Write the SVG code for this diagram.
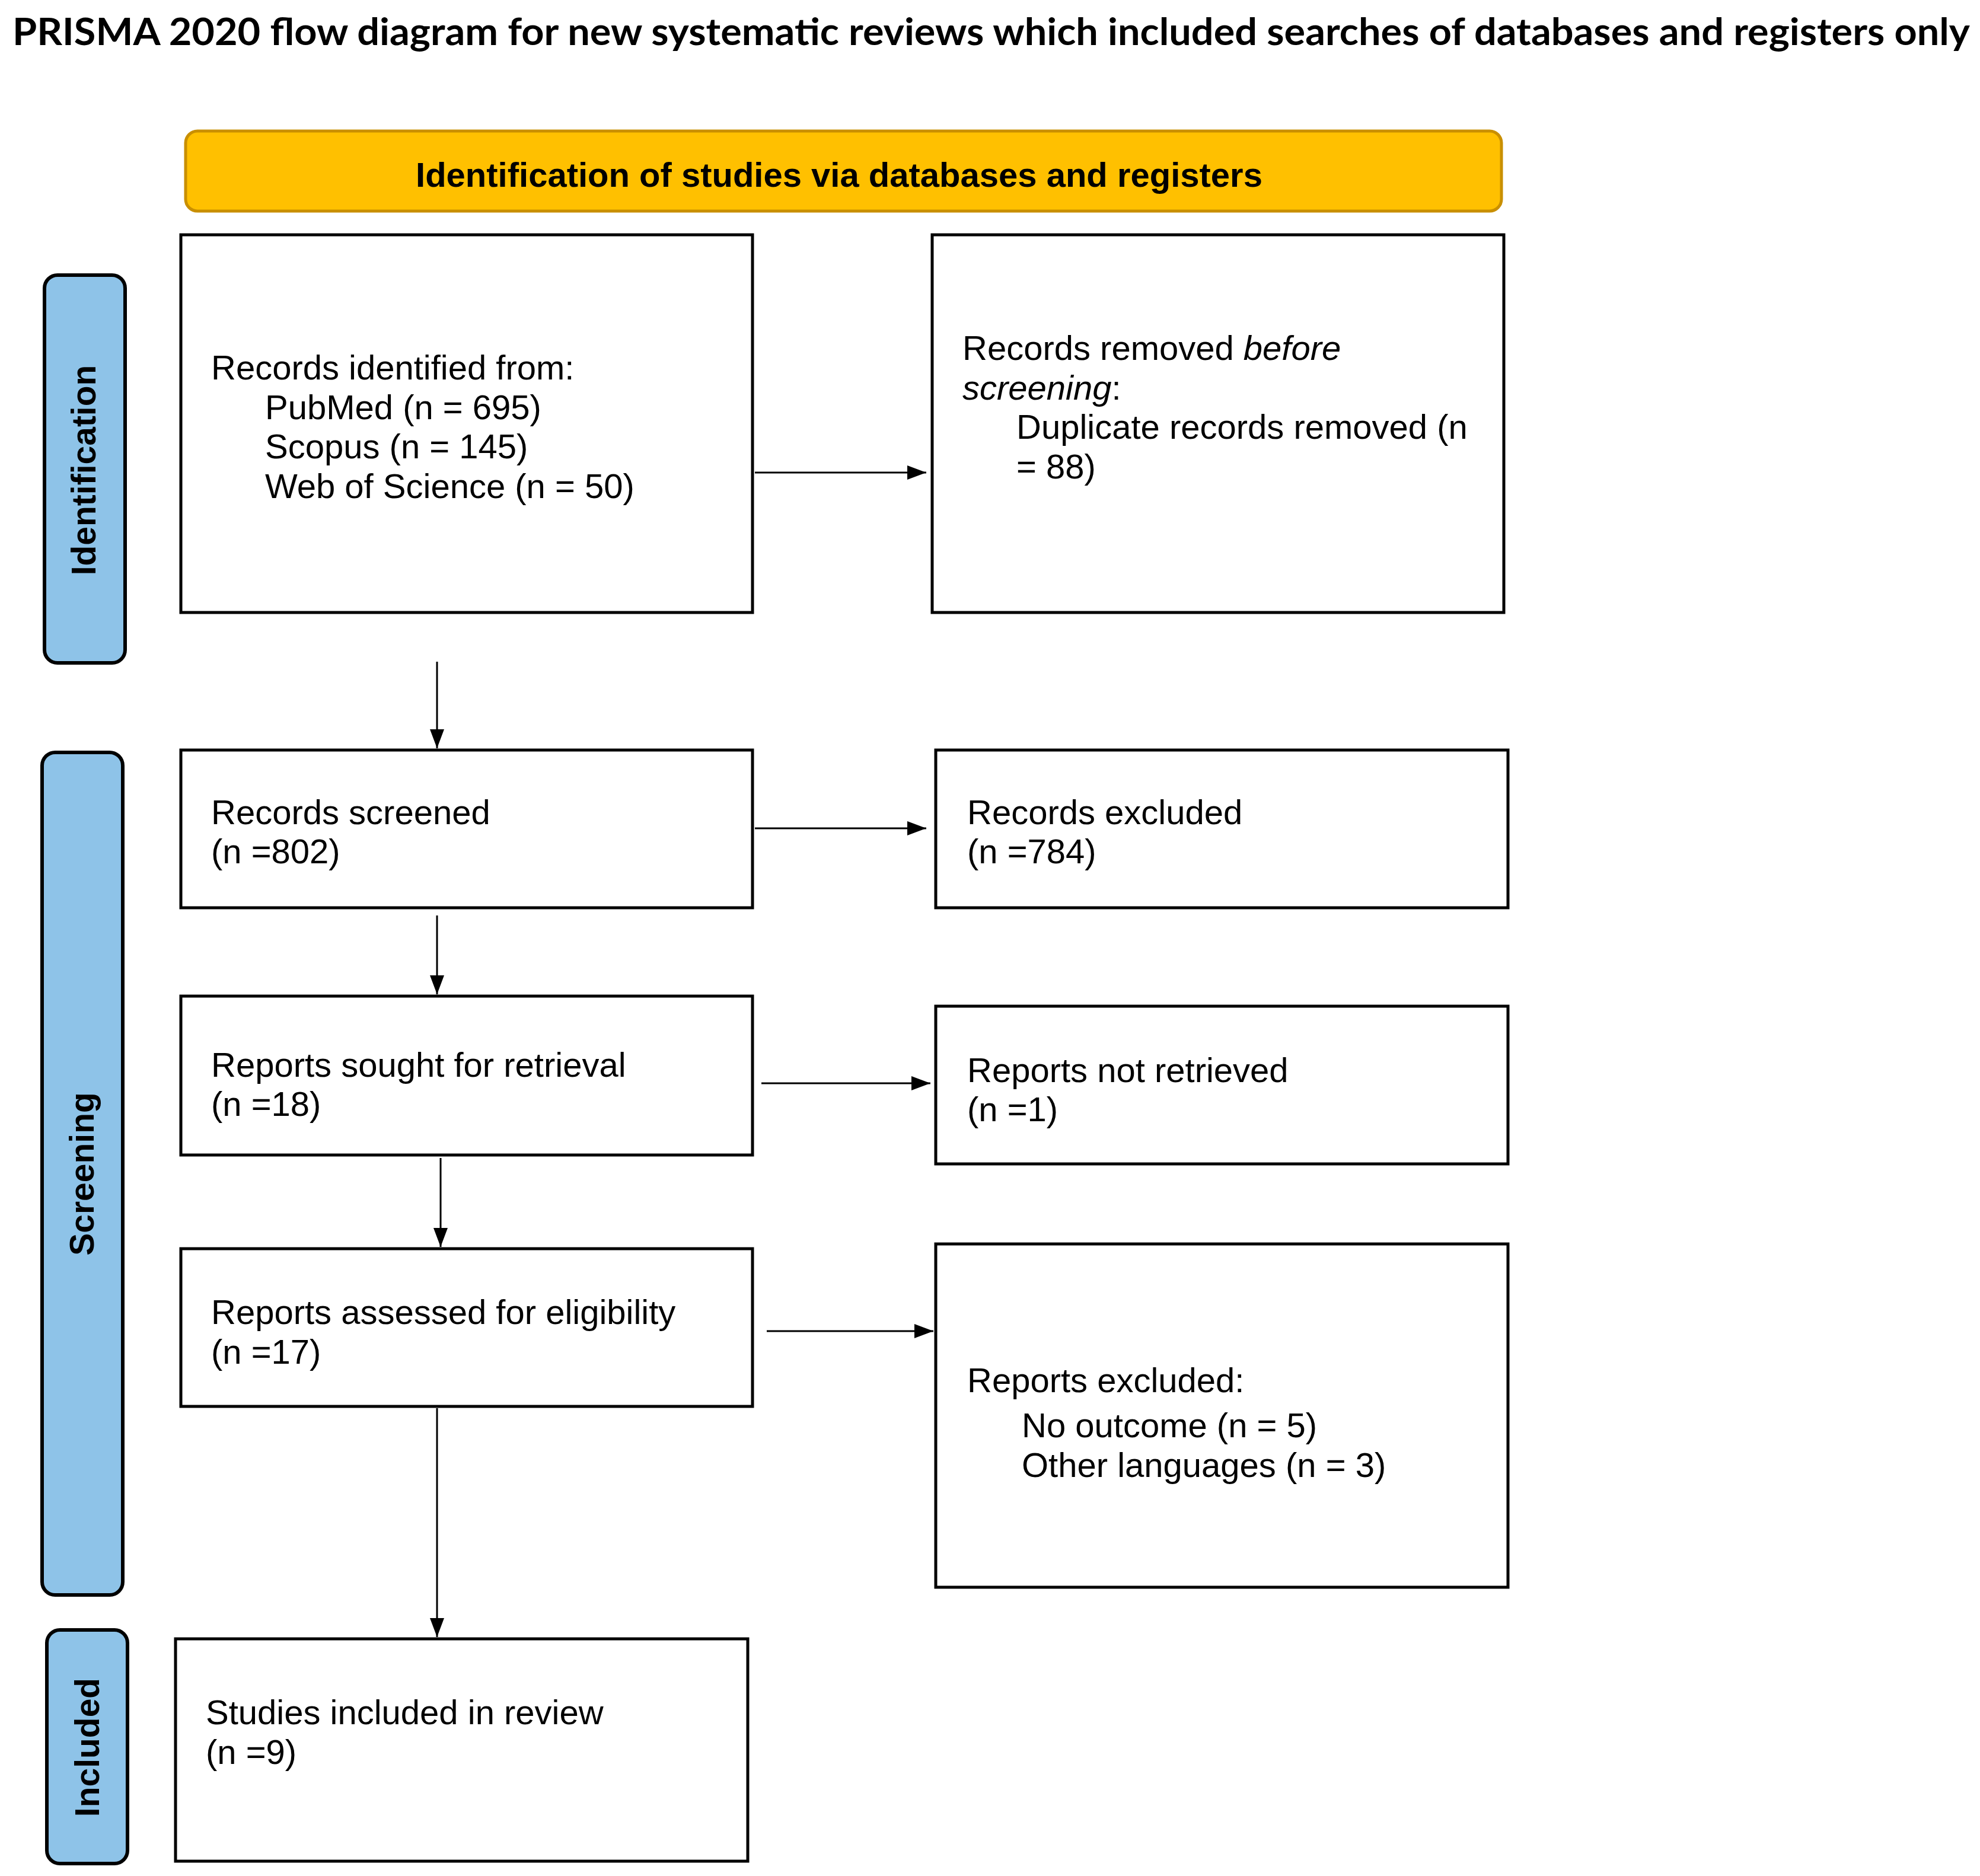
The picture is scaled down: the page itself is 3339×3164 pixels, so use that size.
<svg xmlns="http://www.w3.org/2000/svg" width="3339" height="3164" viewBox="0 0 3339 3164">
<style>
.bg{fill:#ffffff}
.box{fill:#ffffff;stroke:#000000;stroke-width:5}
.side{fill:#8EC3E8;stroke:#000000;stroke-width:6}
.head{fill:#FFC000;stroke:#C98F00;stroke-width:5}
.t{font-family:"Liberation Sans",Arial,sans-serif;font-size:58px;fill:#000000}
.tb{font-family:"Liberation Sans",Arial,sans-serif;font-size:58px;font-weight:bold;fill:#000000}
.st{font-family:"Liberation Sans",Arial,sans-serif;font-size:57px;font-weight:bold;fill:#000000;text-anchor:middle}
.title{font-family:Lato,"Liberation Sans",sans-serif;font-size:64px;font-weight:bold;fill:#000000}
.conn{stroke:#000000;stroke-width:3;fill:none;marker-end:url(#arr)}
</style>
<defs>
<marker id="arr" markerUnits="userSpaceOnUse" markerWidth="32" markerHeight="24" refX="32" refY="12" orient="auto">
<path d="M0,0 L32,12 L0,24 z" fill="#000000"/>
</marker>
</defs>
<rect class="bg" x="0" y="0" width="3339" height="3164"/>
<text class="title" x="21" y="76" textLength="3301" lengthAdjust="spacingAndGlyphs">PRISMA 2020 flow diagram for new systematic reviews which included searches of databases and registers only</text>

<g id="header">
<rect class="head" x="313" y="221" width="2219" height="135" rx="20" ry="20"/>
<text class="tb" x="1415" y="315" text-anchor="middle">Identification of studies via databases and registers</text>
</g>

<g id="side-identification">
<rect class="side" x="75" y="464" width="136" height="654" rx="22" ry="22"/>
<text class="st" transform="translate(161,793) rotate(-90)">Identification</text>
</g>
<g id="side-screening">
<rect class="side" x="71" y="1269" width="136" height="1421" rx="22" ry="22"/>
<text class="st" transform="translate(158,1980) rotate(-90)">Screening</text>
</g>
<g id="side-included">
<rect class="side" x="79" y="2749" width="136" height="394" rx="22" ry="22"/>
<text class="st" transform="translate(167,2947) rotate(-90)">Included</text>
</g>

<g id="n-identified">
<rect class="box" x="305" y="396" width="964" height="637"/>
<text class="t" x="356" y="640">Records identified from:</text>
<text class="t" x="447" y="707">PubMed (n = 695)</text>
<text class="t" x="447" y="773">Scopus (n = 145)</text>
<text class="t" x="447" y="840">Web of Science (n = 50)</text>
</g>

<g id="n-removed">
<rect class="box" x="1572" y="396" width="964" height="637"/>
<text class="t" x="1623" y="607">Records removed <tspan font-style="italic">before</tspan></text>
<text class="t" x="1623" y="674"><tspan font-style="italic">screening</tspan>:</text>
<text class="t" x="1714" y="740">Duplicate records removed (n</text>
<text class="t" x="1714" y="807">= 88)</text>
</g>

<g id="n-screened">
<rect class="box" x="305" y="1265" width="964" height="266"/>
<text class="t" x="356" y="1390">Records screened</text>
<text class="t" x="356" y="1456">(n =802)</text>
</g>

<g id="n-excluded">
<rect class="box" x="1578" y="1265" width="965" height="266"/>
<text class="t" x="1631" y="1390">Records excluded</text>
<text class="t" x="1631" y="1456">(n =784)</text>
</g>

<g id="n-sought">
<rect class="box" x="305" y="1680" width="964" height="268"/>
<text class="t" x="356" y="1816">Reports sought for retrieval</text>
<text class="t" x="356" y="1882">(n =18)</text>
</g>

<g id="n-notretrieved">
<rect class="box" x="1578" y="1697" width="965" height="266"/>
<text class="t" x="1631" y="1825">Reports not retrieved</text>
<text class="t" x="1631" y="1891">(n =1)</text>
</g>

<g id="n-assessed">
<rect class="box" x="305" y="2106" width="964" height="266"/>
<text class="t" x="356" y="2233">Reports assessed for eligibility</text>
<text class="t" x="356" y="2300">(n =17)</text>
</g>

<g id="n-reportsexcluded">
<rect class="box" x="1578" y="2098" width="965" height="579"/>
<text class="t" x="1631" y="2348">Reports excluded:</text>
<text class="t" x="1723" y="2424">No outcome (n = 5)</text>
<text class="t" x="1723" y="2491">Other languages (n = 3)</text>
</g>

<g id="n-included">
<rect class="box" x="296" y="2764" width="965" height="375"/>
<text class="t" x="347" y="2908">Studies included in review</text>
<text class="t" x="347" y="2975">(n =9)</text>
</g>

<g id="connectors">
<line class="conn" x1="1273" y1="797" x2="1562" y2="797"/>
<line class="conn" x1="737" y1="1116" x2="737" y2="1262"/>
<line class="conn" x1="1273" y1="1397" x2="1562" y2="1397"/>
<line class="conn" x1="737" y1="1544" x2="737" y2="1677"/>
<line class="conn" x1="1284" y1="1827" x2="1569" y2="1827"/>
<line class="conn" x1="743" y1="1953" x2="743" y2="2103"/>
<line class="conn" x1="1293" y1="2245" x2="1574" y2="2245"/>
<line class="conn" x1="737" y1="2375" x2="737" y2="2761"/>
</g>
</svg>
